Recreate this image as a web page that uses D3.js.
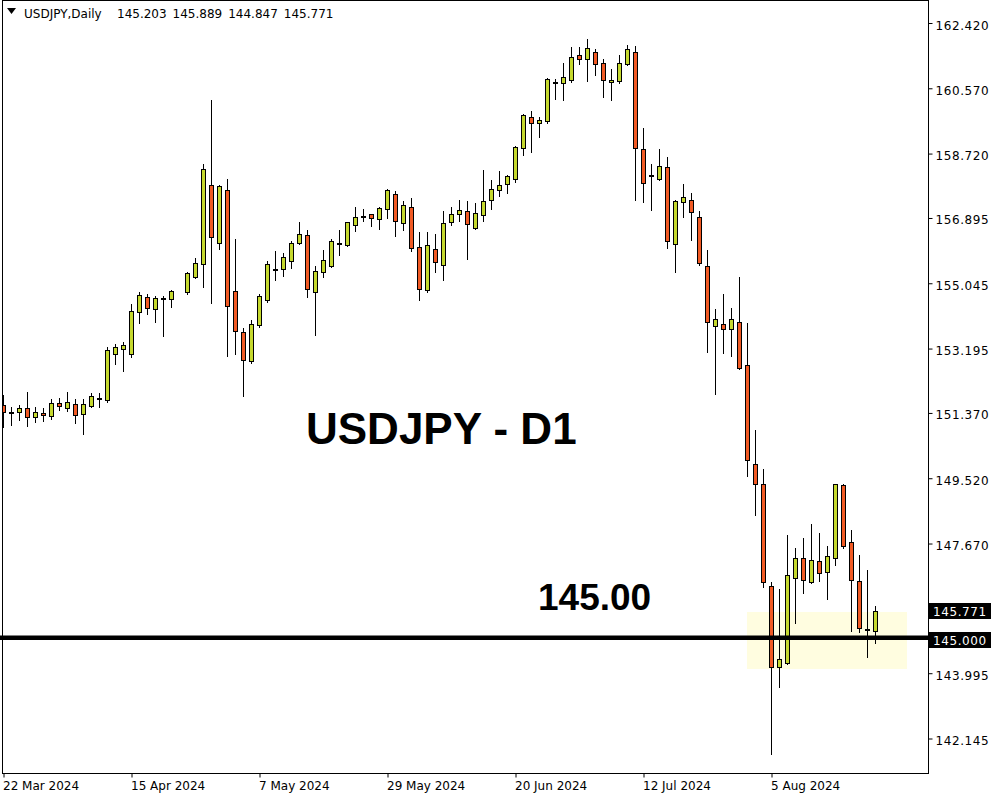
<!DOCTYPE html>
<html>
<head>
<meta charset="utf-8">
<script src="https://cdn.jsdelivr.net/npm/d3@7"></script>
<style>
  html, body { margin: 0; padding: 0; background: #ffffff; }
  svg { display: block; }
</style>
</head>
<body>
<svg id="chart" width="1000" height="800"></svg>
<script>
// ---------------- DATA ----------------
const symbolTitle = "USDJPY,Daily";
const headerValues = ["145.203", "145.889", "144.847", "145.771"];

// one entry per daily bar, 22 Mar 2024 .. 22 Aug 2024 (bar 22 is empty in the reference)
const opens = [
  151.587,151.390,151.390,151.502,151.247,151.360,151.275,151.643,151.502,151.615,
  151.332,151.575,151.794,151.728,153.032,153.174,153.032,154.222,154.647,154.307,
  154.600,154.590,null,154.789,155.214,155.582,157.821,156.177,157.679,154.817,
  153.655,152.834,153.854,154.579,155.450,155.440,155.667,156.177,156.404,154.789,
  155.356,155.526,156.170,156.121,156.687,156.940,156.999,156.857,157.141,157.566,
  156.744,157.197,156.064,154.846,156.007,155.554,156.772,156.999,157.084,156.602,
  156.971,157.396,157.679,157.849,157.991,158.869,159.748,159.578,159.634,160.740,
  160.711,160.796,161.505,161.391,161.590,161.278,160.740,160.768,161.250,161.590,
  158.841,158.090,157.991,158.331,156.149,157.339,157.396,156.914,155.526,153.825,
  153.882,153.740,153.939,152.720,149.915,149.348,146.458,144.163,144.298,146.684,
  147.251,146.571,147.166,146.854,147.251,149.320,147.705,146.599,145.240,145.203
];
const highs = [
  151.879,151.539,151.587,151.955,151.539,151.502,151.765,151.794,151.955,151.765,
  151.765,151.927,151.927,153.230,153.315,153.372,154.449,154.789,154.732,154.675,
  154.675,154.845,null,155.356,155.752,158.416,160.230,157.821,157.991,156.291,
  153.769,153.995,154.732,155.676,155.959,155.902,156.242,156.781,156.546,155.526,
  155.988,156.291,156.546,156.780,157.197,157.141,157.010,157.197,157.708,157.651,
  157.368,157.453,156.489,156.498,156.441,157.084,157.197,157.396,157.368,157.311,
  158.246,157.963,158.218,158.104,158.926,159.830,159.918,159.748,160.853,160.825,
  161.278,161.731,161.731,161.958,161.675,161.391,161.108,161.505,161.788,161.760,
  159.436,158.416,158.841,158.614,157.396,157.849,157.594,157.084,155.979,154.307,
  154.732,154.335,155.214,153.910,150.878,149.773,146.571,146.373,147.903,147.535,
  147.818,148.215,147.960,147.591,149.360,149.360,148.044,147.336,146.911,145.889
];
const lows = [
  150.980,151.037,151.170,151.009,151.122,151.150,151.207,151.462,151.434,151.094,
  150.782,151.547,151.547,151.672,152.748,152.567,152.947,153.910,154.165,153.939,
  153.559,154.381,null,154.732,155.186,154.947,154.494,156.024,152.992,153.049,
  151.859,152.777,153.806,154.523,155.146,155.259,155.486,156.149,154.664,153.587,
  155.231,155.497,155.837,156.090,156.517,156.801,156.659,156.574,156.886,156.376,
  156.546,155.951,154.562,154.789,155.356,155.129,156.687,156.801,155.724,156.574,
  156.801,157.141,157.509,157.594,157.906,158.671,158.756,159.181,159.578,160.275,
  160.247,160.740,161.250,160.768,160.938,160.332,160.247,160.711,161.221,157.413,
  157.356,157.129,157.963,156.058,155.356,156.931,156.279,155.554,153.106,151.921,
  153.077,152.992,152.624,149.592,148.487,146.429,141.697,143.596,144.242,145.432,
  146.254,146.550,146.599,146.089,147.053,147.535,145.182,145.154,144.446,144.847
];
const closes = [
  151.388,151.365,151.502,151.247,151.390,151.320,151.643,151.558,151.672,151.303,
  151.615,151.842,151.757,153.145,153.230,153.287,154.250,154.704,154.352,154.619,
  154.640,154.817,null,155.327,155.611,158.274,156.347,157.793,154.392,153.684,
  152.862,153.882,154.675,155.582,155.430,155.781,156.177,156.432,154.874,155.384,
  155.696,156.234,156.200,156.772,156.914,156.920,156.886,157.169,157.679,156.801,
  157.254,156.036,154.874,156.121,155.639,156.744,156.999,157.112,156.716,157.027,
  157.368,157.708,157.821,158.076,158.898,159.804,159.578,159.663,160.825,160.720,
  160.881,161.448,161.391,161.703,161.250,160.796,160.796,161.278,161.675,158.869,
  157.878,158.110,158.359,156.234,157.368,157.481,157.056,155.611,153.939,154.024,
  153.740,154.024,152.652,150.028,149.348,146.571,144.163,144.389,146.770,147.251,
  146.628,147.194,146.826,147.308,149.348,147.591,146.628,145.267,145.210,145.771
];

// x-axis labels and the bar they belong to
const xLabels = ["22 Mar 2024", "15 Apr 2024", "7 May 2024", "29 May 2024", "20 Jun 2024", "12 Jul 2024", "5 Aug 2024"];
const xLabelBars = [0, 16, 32, 48, 64, 80, 96];

// right price axis ticks
const yTicks = [162.420, 160.570, 158.720, 156.895, 155.045, 153.195, 151.370, 149.520, 147.670, 143.995, 142.145];

// annotations
const levelPrice = 145.000;
const lastPrice = 145.771;
const zoneBars = [92.95, 112.95];
const zonePrices = [144.12, 145.72];
const titleText = "USDJPY - D1";
const levelText = "145.00";

// ---------------- LAYOUT ----------------
const plotLeft = 2, plotTop = 0, plotRight = 928, plotBottom = 773;
const bullColor = "#c5d82e";
const bearColor = "#f15a24";

const svg = d3.select("#chart");

const x = d3.scaleLinear().domain([0, 96]).range([3.5, 771.5]);
const y = d3.scaleLinear().domain([142.145, 162.42]).range([738.5, 23]);

const candles = opens.map((o, i) => ({ i, o, h: highs[i], l: lows[i], c: closes[i] }))
  .filter(d => d.o !== null);

svg.append("defs").append("clipPath").attr("id", "plotclip")
  .append("rect").attr("x", plotLeft + 1).attr("y", plotTop + 1)
  .attr("width", plotRight - plotLeft - 1).attr("height", plotBottom - plotTop - 1);

const plot = svg.append("g").attr("clip-path", "url(#plotclip)");

// highlight zone
plot.append("rect")
  .attr("x", Math.round(x(zoneBars[0])))
  .attr("y", Math.round(y(zonePrices[1])))
  .attr("width", Math.round(x(zoneBars[1])) - Math.round(x(zoneBars[0])))
  .attr("height", Math.round(y(zonePrices[0])) - Math.round(y(zonePrices[1])))
  .attr("fill", "#fffde0");

// wicks
plot.append("g").selectAll("line").data(candles).join("line")
  .attr("x1", d => x(d.i)).attr("x2", d => x(d.i))
  .attr("y1", d => Math.round(y(d.h)))
  .attr("y2", d => Math.round(y(d.l)) + 1)
  .attr("stroke", "#000").attr("stroke-width", 1);

// bodies
const bodyG = plot.append("g");
candles.forEach(d => {
  const yTop = Math.round(y(Math.max(d.o, d.c)));
  const yBot = Math.round(y(Math.min(d.o, d.c)));
  const cx = x(d.i);
  if (yBot - yTop < 2) {
    bodyG.append("rect")
      .attr("x", cx - 2.5).attr("y", yTop)
      .attr("width", 5).attr("height", Math.max(1, yBot - yTop + 1))
      .attr("fill", "#000");
  } else {
    bodyG.append("rect")
      .attr("x", cx - 2).attr("y", yTop + 0.5)
      .attr("width", 4).attr("height", yBot - yTop)
      .attr("fill", d.c >= d.o ? bullColor : bearColor)
      .attr("stroke", "#000").attr("stroke-width", 1);
  }
});

// horizontal level line
svg.append("line")
  .attr("x1", 0).attr("x2", plotRight + 1)
  .attr("y1", y(levelPrice)).attr("y2", y(levelPrice))
  .attr("stroke", "#000").attr("stroke-width", 4.5);

// frame
svg.append("rect")
  .attr("x", plotLeft + 0.5).attr("y", plotTop + 0.5)
  .attr("width", plotRight - plotLeft).attr("height", plotBottom - plotTop)
  .attr("fill", "none").attr("stroke", "#000").attr("stroke-width", 1);

// right axis
const yAxis = d3.axisRight(y).tickValues(yTicks).tickFormat(d3.format(".3f")).tickSize(4).tickPadding(3);
const yg = svg.append("g").attr("transform", `translate(${plotRight + 0.5},0)`).call(yAxis);
yg.select(".domain").remove();
yg.selectAll(".tick line").attr("stroke", "#000");
yg.selectAll(".tick text")
  .attr("font-family", "DejaVu Sans, sans-serif").attr("font-size", 12)
  .attr("letter-spacing", "0.6px")
  .attr("fill", "#000").attr("dy", "0.5em");

// price boxes
[[lastPrice, 603], [levelPrice, 632]].forEach(([p, top]) => {
  svg.append("rect").attr("x", plotRight + 1).attr("y", top)
    .attr("width", 62).attr("height", 16).attr("fill", "#000");
  svg.append("text").attr("x", plotRight + 5).attr("y", top + 12.5)
    .attr("font-family", "DejaVu Sans, sans-serif").attr("font-size", 12)
    .attr("letter-spacing", "0.6px")
    .attr("fill", "#fff").text(d3.format(".3f")(p));
});

// bottom axis
const xAxis = d3.axisBottom(x).tickValues(xLabelBars).tickFormat((d, i) => xLabels[i]).tickSize(4).tickPadding(4);
const xg = svg.append("g").attr("transform", `translate(0,${plotBottom + 0.5})`).call(xAxis);
xg.select(".domain").remove();
xg.selectAll(".tick line").attr("stroke", "#000");
xg.selectAll(".tick text")
  .attr("font-family", "DejaVu Sans, sans-serif").attr("font-size", 12)
  .attr("text-anchor", "start").attr("x", -1).attr("fill", "#000");

// header
svg.append("path").attr("d", "M7,8 L16,8 L11.5,14 Z").attr("fill", "#000");
svg.append("text").attr("x", 24).attr("y", 18)
  .attr("font-family", "DejaVu Sans, sans-serif").attr("font-size", 12)
  .attr("fill", "#000").text(symbolTitle);
svg.append("g").selectAll("text").data(headerValues).join("text")
  .attr("x", (d, i) => 117 + i * 55.6).attr("y", 18)
  .attr("font-family", "DejaVu Sans, sans-serif").attr("font-size", 12)
  .attr("fill", "#000").text(d => d);

// annotations
svg.append("text").attr("x", 306).attr("y", 444)
  .attr("font-family", "Liberation Sans, Arial, sans-serif").attr("font-weight", "bold")
  .attr("font-size", 44).attr("fill", "#000").text(titleText);
svg.append("text").attr("x", 538).attr("y", 610)
  .attr("font-family", "Liberation Sans, Arial, sans-serif").attr("font-weight", "bold")
  .attr("font-size", 37).attr("fill", "#000").text(levelText);
</script>
</body>
</html>
